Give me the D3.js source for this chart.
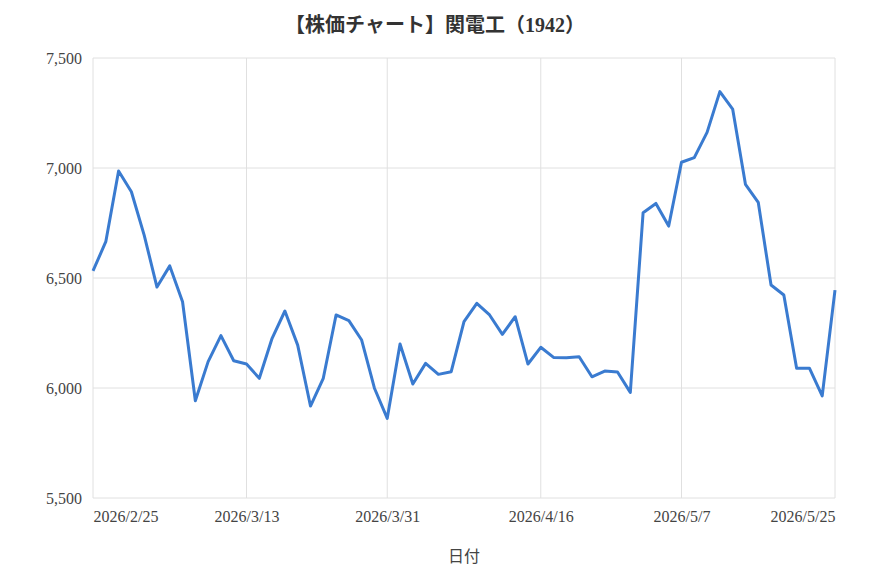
<!DOCTYPE html>
<meta charset="utf-8">
<style>
body {
  margin: 0;
  background: #fff;
  font-family: "Liberation Serif", "Noto Sans CJK JP", serif;
}
.grid line {
  stroke: #e0e0e0;
  stroke-width: 1;
}
.tick text {
  fill: #444;
  font-size: 16px;
  font-family: "Liberation Serif", "Noto Sans CJK JP", serif;
}
</style>
<body>
<script src="https://cdn.jsdelivr.net/npm/d3@7"></script>
<script>

var width = 870,
    height = 580,
    margin = {top: 58, right: 35, bottom: 82, left: 93};

// trading days shown on the chart
var dates = [
  "2026/2/25", "2026/2/26", "2026/2/27", "2026/3/2", "2026/3/3", "2026/3/4", "2026/3/5",
  "2026/3/6", "2026/3/9", "2026/3/10", "2026/3/11", "2026/3/12", "2026/3/13", "2026/3/16",
  "2026/3/17", "2026/3/18", "2026/3/19", "2026/3/23", "2026/3/24", "2026/3/25", "2026/3/26",
  "2026/3/27", "2026/3/30", "2026/3/31", "2026/4/1", "2026/4/2", "2026/4/3", "2026/4/6",
  "2026/4/7", "2026/4/8", "2026/4/9", "2026/4/10", "2026/4/13", "2026/4/14", "2026/4/15",
  "2026/4/16", "2026/4/17", "2026/4/20", "2026/4/21", "2026/4/22", "2026/4/23", "2026/4/24",
  "2026/4/27", "2026/4/28", "2026/4/30", "2026/5/1", "2026/5/7", "2026/5/8", "2026/5/11",
  "2026/5/12", "2026/5/13", "2026/5/14", "2026/5/15", "2026/5/18", "2026/5/19", "2026/5/20",
  "2026/5/21", "2026/5/22", "2026/5/25"
];

// closing price (yen)
var prices = [
  6532, 6665, 6986, 6892, 6695, 6459, 6555, 6392, 5942, 6120,
  6238, 6124, 6109, 6044, 6226, 6350, 6195, 5918, 6044, 6332,
  6306, 6218, 5999, 5862, 6200, 6018, 6112, 6062, 6074, 6302,
  6385, 6332, 6244, 6324, 6109, 6185, 6139, 6138, 6142, 6051,
  6077, 6073, 5980, 6797, 6839, 6736, 7026, 7047, 7162, 7347,
  7268, 6926, 6844, 6468, 6423, 6090, 6090, 5964, 6445
];

var tickDates = ["2026/2/25", "2026/3/13", "2026/3/31", "2026/4/16", "2026/5/7", "2026/5/25"];
var yTicks = [5500, 6000, 6500, 7000, 7500];

var innerW = width - margin.left - margin.right,
    innerH = height - margin.top - margin.bottom;

var x = d3.scalePoint()
    .domain(dates)
    .range([0, innerW]);

var y = d3.scaleLinear()
    .domain([5500, 7500])
    .range([innerH, 0]);

var svg = d3.select("body").append("svg")
    .attr("width", width)
    .attr("height", height);

svg.append("text")
    .attr("x", width / 2)
    .attr("y", 32)
    .attr("text-anchor", "middle")
    .attr("font-size", "20px")
    .attr("font-weight", "bold")
    .attr("fill", "#333")
    .text("【株価チャート】関電工（1942）");

var g = svg.append("g")
    .attr("transform", "translate(" + margin.left + "," + margin.top + ")");

// grid
g.append("g")
    .attr("class", "grid")
    .selectAll("line.h")
    .data(yTicks)
  .enter().append("line")
    .attr("x1", 0)
    .attr("x2", innerW)
    .attr("y1", function(d) { return y(d); })
    .attr("y2", function(d) { return y(d); });

g.append("g")
    .attr("class", "grid")
    .selectAll("line.v")
    .data(tickDates)
  .enter().append("line")
    .attr("x1", function(d) { return x(d); })
    .attr("x2", function(d) { return x(d); })
    .attr("y1", 0)
    .attr("y2", innerH);

// y axis
var yAxis = g.append("g")
    .attr("font-family", null)
    .call(d3.axisLeft(y).tickValues(yTicks).tickFormat(d3.format(",")).tickSize(0).tickPadding(11));
yAxis.select(".domain").remove();

// x axis
var xAxis = g.append("g")
    .attr("transform", "translate(0," + innerH + ")")
    .call(d3.axisBottom(x).tickValues(tickDates).tickSize(0).tickPadding(13));
xAxis.select(".domain").remove();
xAxis.selectAll(".tick text")
    .attr("text-anchor", function(d, i, nodes) {
      if (i === 0) return "start";
      if (i === nodes.length - 1) return "end";
      return "middle";
    });

g.append("text")
    .attr("x", innerW / 2)
    .attr("y", innerH + 64)
    .attr("text-anchor", "middle")
    .attr("font-size", "16px")
    .attr("fill", "#444")
    .text("日付");

var line = d3.line()
    .x(function(d, i) { return x(dates[i]); })
    .y(function(d) { return y(d); });

g.append("path")
    .datum(prices)
    .attr("fill", "none")
    .attr("stroke", "#3a7bd0")
    .attr("stroke-width", 3)
    .attr("stroke-linejoin", "round")
    .attr("d", line);

</script>
